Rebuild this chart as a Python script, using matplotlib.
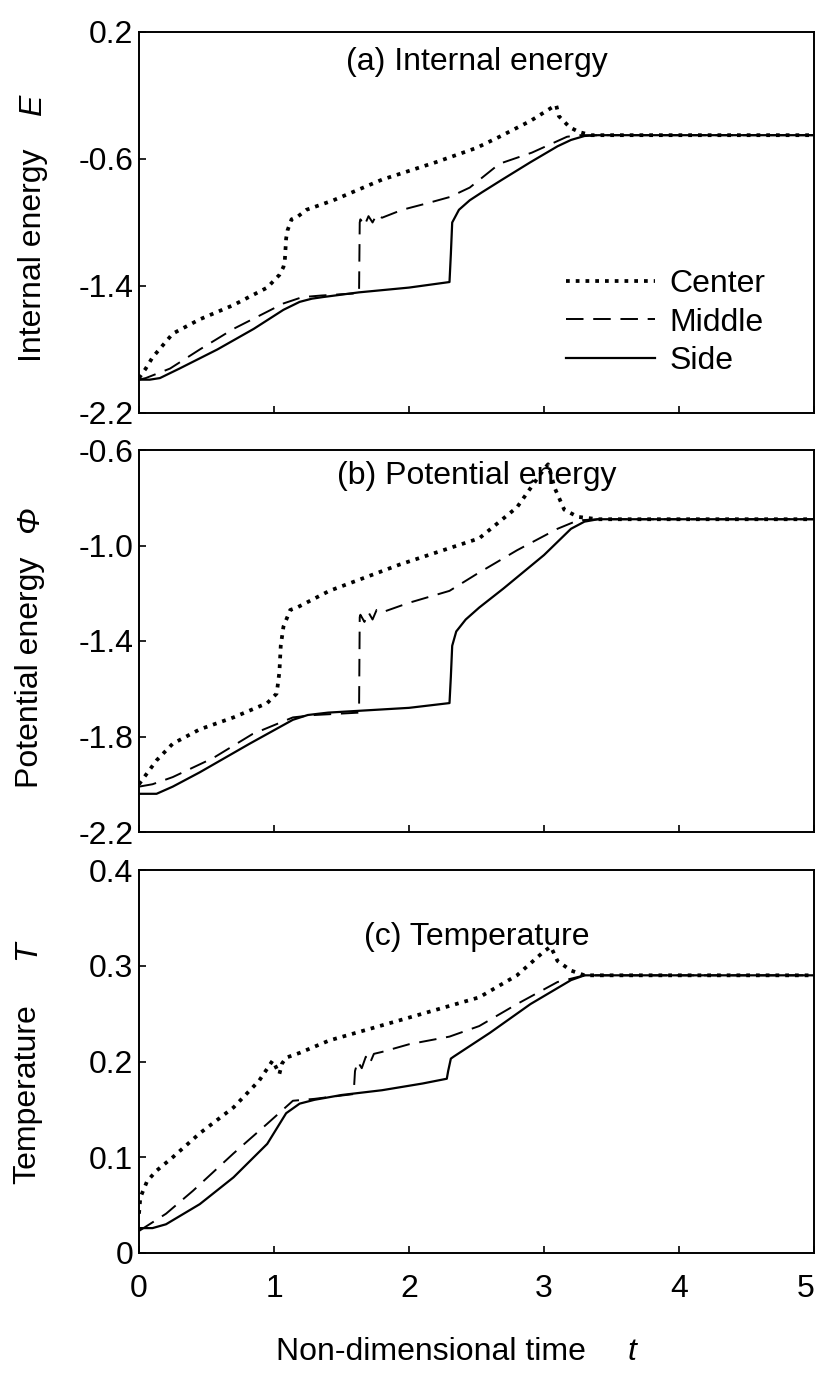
import matplotlib
matplotlib.use("Agg")
import matplotlib.pyplot as plt
from matplotlib.lines import Line2D

plt.rcParams['font.family'] = ['Liberation Sans', 'DejaVu Sans']

# ---------------- data ----------------
# (a) Internal energy E
t_a_center = [0, 0.05, 0.1, 0.17, 0.25, 0.45, 0.7, 0.95, 1.04, 1.07, 1.08, 1.09, 1.10, 1.13, 1.18, 1.24, 1.44, 1.80, 2.2, 2.5, 2.67, 2.9, 3.05, 3.09, 3.11, 3.19, 3.26, 3.35, 5.0]
E_center = [-1.98, -1.92, -1.85, -1.78, -1.70, -1.61, -1.52, -1.41, -1.33, -1.28, -1.24, -1.10, -1.05, -0.98, -0.96, -0.92, -0.86, -0.73, -0.62, -0.53, -0.46, -0.36, -0.28, -0.26, -0.33, -0.40, -0.43, -0.45, -0.45]
t_a_middle = [0, 0.05, 0.23, 0.45, 0.70, 1.07, 1.21, 1.35, 1.63, 1.635, 1.64, 1.67, 1.70, 1.73, 1.76, 1.80, 1.95, 2.13, 2.30, 2.45, 2.67, 2.91, 3.17, 3.25, 3.4, 5.0]
E_middle = [-1.99, -1.98, -1.92, -1.80, -1.67, -1.51, -1.47, -1.46, -1.445, -1.00, -0.98, -1.02, -0.96, -1.0, -0.95, -0.97, -0.92, -0.88, -0.84, -0.78, -0.63, -0.56, -0.46, -0.45, -0.45, -0.45]
t_a_side = [0, 0.08, 0.155, 0.3, 0.58, 0.85, 1.07, 1.19, 1.28, 1.36, 1.63, 2.0, 2.30, 2.31, 2.32, 2.37, 2.45, 2.54, 2.69, 2.9, 3.1, 3.2, 3.3, 3.4, 5.0]
E_side = [-1.99, -1.99, -1.98, -1.92, -1.80, -1.67, -1.55, -1.50, -1.48, -1.47, -1.44, -1.41, -1.375, -1.2, -1.00, -0.92, -0.86, -0.81, -0.73, -0.62, -0.52, -0.48, -0.455, -0.45, -0.45]

# (b) Potential energy Phi
t_b_center = [0, 0.13, 0.25, 0.45, 0.7, 0.95, 1.02, 1.04, 1.05, 1.07, 1.12, 1.17, 1.41, 1.93, 2.52, 2.8, 3.0, 3.03, 3.08, 3.15, 3.25, 3.4, 5.0]
P_center = [-2.00, -1.90, -1.83, -1.77, -1.72, -1.66, -1.62, -1.53, -1.42, -1.34, -1.27, -1.26, -1.19, -1.08, -0.97, -0.84, -0.68, -0.66, -0.76, -0.85, -0.88, -0.89, -0.89]
t_b_middle = [0, 0.1, 0.25, 0.55, 0.84, 1.14, 1.3, 1.63, 1.635, 1.64, 1.67, 1.70, 1.73, 1.76, 1.8, 2.0, 2.3, 2.5, 2.8, 3.1, 3.25, 3.4, 5.0]
P_middle = [-2.01, -2.00, -1.97, -1.89, -1.79, -1.72, -1.71, -1.70, -1.30, -1.29, -1.32, -1.28, -1.31, -1.27, -1.28, -1.24, -1.19, -1.12, -1.02, -0.93, -0.895, -0.89, -0.89]
t_b_side = [0, 0.13, 0.25, 0.45, 0.82, 1.14, 1.25, 1.4, 1.7, 2.0, 2.30, 2.31, 2.32, 2.35, 2.42, 2.52, 2.7, 3.0, 3.2, 3.3, 3.4, 5.0]
P_side = [-2.04, -2.04, -2.01, -1.95, -1.83, -1.73, -1.71, -1.70, -1.69, -1.68, -1.66, -1.55, -1.42, -1.36, -1.31, -1.26, -1.18, -1.04, -0.93, -0.90, -0.89, -0.89]

# (c) Temperature T
t_c_center = [0, 0.01, 0.06, 0.13, 0.25, 0.45, 0.7, 0.89, 0.99, 1.04, 1.06, 1.09, 1.19, 1.41, 1.93, 2.52, 2.8, 3.0, 3.05, 3.1, 3.2, 3.3, 5.0]
T_center = [0.041, 0.058, 0.075, 0.086, 0.10, 0.125, 0.152, 0.18, 0.201, 0.187, 0.198, 0.204, 0.209, 0.222, 0.243, 0.267, 0.29, 0.315, 0.32, 0.305, 0.295, 0.29, 0.29]
t_c_middle = [0, 0.2, 0.4, 0.7, 0.95, 1.14, 1.3, 1.59, 1.6, 1.62, 1.65, 1.68, 1.71, 1.74, 1.8, 2.0, 2.3, 2.52, 2.8, 3.1, 3.3, 3.4, 5.0]
T_middle = [0.023, 0.041, 0.065, 0.104, 0.135, 0.159, 0.161, 0.166, 0.19, 0.20, 0.193, 0.205, 0.198, 0.208, 0.21, 0.218, 0.226, 0.237, 0.26, 0.283, 0.29, 0.29, 0.29]
t_c_side = [0, 0.1, 0.2, 0.45, 0.70, 0.95, 1.09, 1.19, 1.3, 1.5, 1.8, 2.1, 2.28, 2.29, 2.31, 2.33, 2.6, 2.9, 3.2, 3.3, 3.4, 5.0]
T_side = [0.026, 0.026, 0.030, 0.051, 0.079, 0.114, 0.146, 0.156, 0.160, 0.165, 0.170, 0.177, 0.182, 0.19, 0.203, 0.205, 0.23, 0.26, 0.285, 0.29, 0.29, 0.29]

series_names = ["Center", "Middle", "Side"]
x_ticks = [0, 1, 2, 3, 4, 5]
yticks_a = [-2.2, -1.4, -0.6, 0.2]
yticks_b = [-2.2, -1.8, -1.4, -1.0, -0.6]
yticks_c = [0, 0.1, 0.2, 0.3, 0.4]
ytick_labels_c = ["0", "0.1", "0.2", "0.3", "0.4"]

# ---------------- styles ----------------
W, H = 819, 1377
fig = plt.figure(figsize=(W / 100, H / 100), dpi=100)

styles = {
    "Center": dict(color="black", lw=2.7, linestyle=(0, (1.0, 1.6)), dash_capstyle="butt"),
    "Middle": dict(color="black", lw=1.4, linestyle=(0, (9, 5))),
    "Side": dict(color="black", lw=1.6, linestyle="-"),
}

FS = 23
left, right = 139 / W, 814 / W


def make_ax(top_px, bot_px):
    ax = fig.add_axes([left, 1 - bot_px / H, right - left, (bot_px - top_px) / H])
    for s in ax.spines.values():
        s.set_linewidth(1.4)
    ax.set_xlim(0, 5)
    ax.set_xticks(x_ticks)
    ax.tick_params(direction="in", length=5, width=1.2, labelsize=FS, top=False, right=False)
    ax.tick_params(axis="y", pad=4)
    ax.tick_params(axis="x", pad=15)
    return ax


ax_a = make_ax(32, 413)
ax_b = make_ax(450, 832)
ax_c = make_ax(870, 1253)

panels = [
    (ax_a, [(t_a_center, E_center), (t_a_middle, E_middle), (t_a_side, E_side)], (-2.2, 0.2), yticks_a, ["-2.2", "-1.4", "-0.6", "0.2"], "(a) Internal energy", 0.922),
    (ax_b, [(t_b_center, P_center), (t_b_middle, P_middle), (t_b_side, P_side)], (-2.2, -0.6), yticks_b, ["-2.2", "-1.8", "-1.4", "-1.0", "-0.6"], "(b) Potential energy", 0.932),
    (ax_c, [(t_c_center, T_center), (t_c_middle, T_middle), (t_c_side, T_side)], (0, 0.4), yticks_c, ytick_labels_c, "(c) Temperature", 0.825),
]

for ax, data, ylim, yt, ytl, title, ty in panels:
    for name, (tx, vy) in zip(series_names, data):
        ax.plot(tx, vy, **styles[name], label=name)
    ax.set_ylim(*ylim)
    ax.set_yticks(yt)
    ax.set_yticklabels(ytl)
    ax.text(0.5, ty, title, transform=ax.transAxes, ha="center", va="center", fontsize=FS)

ax_a.tick_params(axis="x", labelbottom=False)
ax_b.tick_params(axis="x", labelbottom=False)
xt_labels = ax_c.get_xticklabels()
xt_labels[-1].set_horizontalalignment("right")

handles = [Line2D([], [], **styles[n]) for n in series_names]
ax_a.legend(handles, series_names, loc="upper left", bbox_to_anchor=(0.632, 0.378),
            frameon=False, fontsize=FS, handlelength=2.8, handletextpad=0.45,
            labelspacing=0.27, borderpad=0, borderaxespad=0)

# y labels
fig.text(33 / W, 1 - 255 / H, "Internal energy", rotation=90, ha="center", va="center", fontsize=FS)
fig.text(33 / W, 1 - 105 / H, "E", rotation=90, ha="center", va="center", fontsize=FS, style="italic")
fig.text(30 / W, 1 - 672 / H, "Potential energy", rotation=90, ha="center", va="center", fontsize=FS)
fig.text(30 / W, 1 - 520 / H, "\u03a6", rotation=90, ha="center", va="center", fontsize=FS, style="italic")
fig.text(27 / W, 1 - 1094 / H, "Temperature", rotation=90, ha="center", va="center", fontsize=FS)
fig.text(27 / W, 1 - 950 / H, "T", rotation=90, ha="center", va="center", fontsize=FS, style="italic")

# x label
fig.text(431 / W, 1 - 1352 / H, "Non-dimensional time", ha="center", va="center", fontsize=FS)
fig.text(632 / W, 1 - 1352 / H, "t", ha="center", va="center", fontsize=FS, style="italic")

fig.savefig("out.png", dpi=100)
